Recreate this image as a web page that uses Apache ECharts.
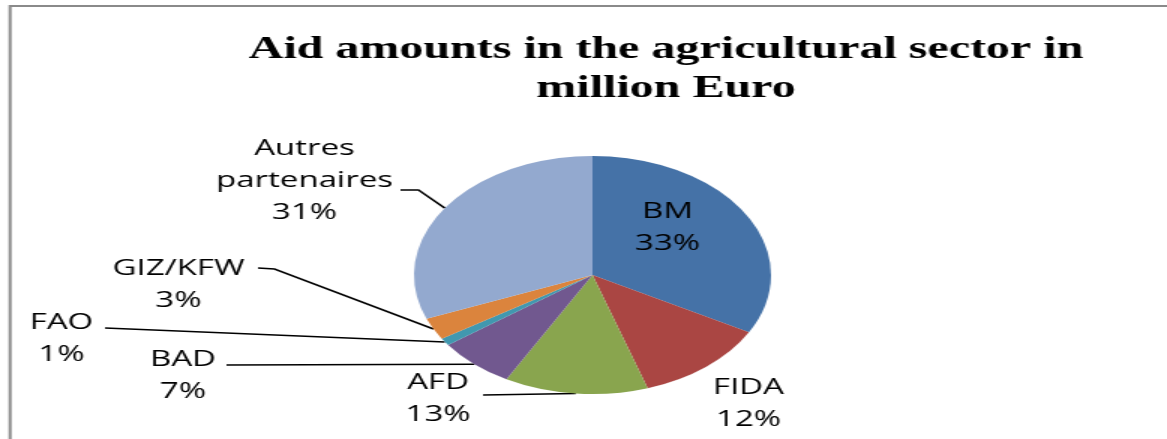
<!DOCTYPE html>
<html><head><meta charset="utf-8">
<script src="https://cdn.jsdelivr.net/npm/echarts@6/dist/echarts.min.js"></script>
<style>
html,body{margin:0;padding:0;background:#fff;overflow:hidden;}
#wrap{width:1167px;height:439px;position:relative;overflow:hidden;}
#chart{width:778px;height:439px;transform:scaleX(1.5);transform-origin:0 0;}
</style></head><body>
<div id="wrap"><div id="chart"></div></div>
<script>
const titleText = 'Aid amounts in the agricultural sector in\nmillion Euro';
const categories = ['BM', 'FIDA', 'AFD', 'BAD', 'FAO', 'GIZ/KFW', 'Autres partenaires'];
const labelNames = ['BM', 'FIDA', 'AFD', 'BAD', 'FAO', 'GIZ/KFW', 'Autres\npartenaires'];
const shares = [33, 12, 13, 7, 1, 3, 31];
const colors = ['#4572A7', '#AA4643', '#89A54E', '#71588F', '#4198AF', '#DB843D', '#93A9CF'];
const showLeader = [false, false, true, true, true, true, true];

// label placement (chart's unstretched px)
const labelAnchor = [[445, 228], [499, 404], [292, 399], [122, 376], [41, 339], [119, 285], [203, 181]];
const leaderEnd = [null, null, [322, 395], [151, 365], [70, 328], [172, 268], [267, 190]];
const leaderBend = [null, null, [322, 395], [151, 365], [70, 328], [183, 269], [279, 190]];

const chart = echarts.init(document.getElementById('chart'), null, {renderer: 'canvas'});
const data = categories.map((c, i) => ({
  name: c,
  value: shares[i],
  itemStyle: {color: colors[i]},
  labelLine: {show: showLeader[i]}
}));

chart.setOption({
  animation: false,
  backgroundColor: '#fff',
  title: {
    text: titleText,
    left: 439, top: 25,
    textAlign: 'center',
    textStyle: {fontFamily: 'Liberation Serif', fontWeight: 'bold', fontSize: 32, lineHeight: 39, color: '#000'}
  },
  graphic: [
    {type: 'line', shape: {x1: 6.3, y1: 6, x2: 778, y2: 6}, style: {stroke: '#8a8a8a', lineWidth: 2}},
    {type: 'line', shape: {x1: 6.7, y1: 5, x2: 6.7, y2: 439}, style: {stroke: '#8a8a8a', lineWidth: 2}}
  ],
  series: [{
    type: 'pie',
    center: [395, 275],
    radius: 119,
    startAngle: 90,
    clockwise: true,
    avoidLabelOverlap: false,
    data: data,
    label: {
      show: true,
      position: 'outside',
      formatter: p => labelNames[p.dataIndex] + '\n' + p.percent.toFixed(0) + '%',
      fontFamily: 'Open Sans',
      fontSize: 22,
      lineHeight: 32,
      color: '#000',
      align: 'center'
    },
    labelLine: {show: true, length: 10, length2: 10, lineStyle: {color: '#000', width: 1.5}},
    labelLayout: function (p) {
      const i = p.dataIndex;
      const o = {x: labelAnchor[i][0], y: labelAnchor[i][1], align: 'center', verticalAlign: 'middle'};
      if (showLeader[i] && p.labelLinePoints) {
        const s = p.labelLinePoints[0];
        o.labelLinePoints = [[leaderEnd[i][0], leaderEnd[i][1]], [leaderBend[i][0], leaderBend[i][1]], [s[0], s[1]]];
      }
      return o;
    }
  }]
});
</script>
</body></html>
